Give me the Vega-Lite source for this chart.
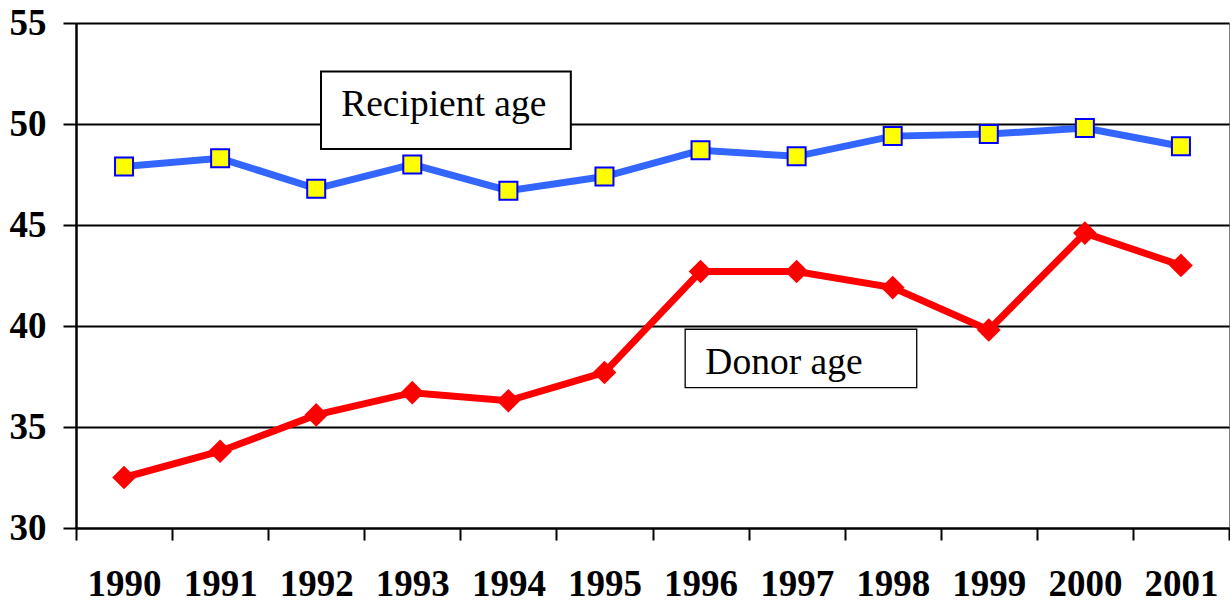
{
  "$schema": "https://vega.github.io/schema/vega-lite/v6.json",
  "autosize": {"type": "none"},
  "width": 1153,
  "height": 505,
  "padding": {"left": 76, "top": 23, "right": 1, "bottom": 75},
  "background": "white",
  "config": {"view": {"stroke": "#808080", "strokeWidth": 1}},
  "datasets": {
    "ages": [
      {"year": 1990, "series": "Recipient", "age": 47.9},
      {"year": 1991, "series": "Recipient", "age": 48.3},
      {"year": 1992, "series": "Recipient", "age": 46.8},
      {"year": 1993, "series": "Recipient", "age": 48.0},
      {"year": 1994, "series": "Recipient", "age": 46.7},
      {"year": 1995, "series": "Recipient", "age": 47.4},
      {"year": 1996, "series": "Recipient", "age": 48.7},
      {"year": 1997, "series": "Recipient", "age": 48.4},
      {"year": 1998, "series": "Recipient", "age": 49.4},
      {"year": 1999, "series": "Recipient", "age": 49.5},
      {"year": 2000, "series": "Recipient", "age": 49.8},
      {"year": 2001, "series": "Recipient", "age": 48.9},
      {"year": 1990, "series": "Donor", "age": 32.5},
      {"year": 1991, "series": "Donor", "age": 33.8},
      {"year": 1992, "series": "Donor", "age": 35.6},
      {"year": 1993, "series": "Donor", "age": 36.7},
      {"year": 1994, "series": "Donor", "age": 36.3},
      {"year": 1995, "series": "Donor", "age": 37.7},
      {"year": 1996, "series": "Donor", "age": 42.7},
      {"year": 1997, "series": "Donor", "age": 42.7},
      {"year": 1998, "series": "Donor", "age": 41.9},
      {"year": 1999, "series": "Donor", "age": 39.8},
      {"year": 2000, "series": "Donor", "age": 44.6},
      {"year": 2001, "series": "Donor", "age": 43.0}
    ],
    "boxes": [
      {"label": "Recipient age", "x1": 1992.05, "x2": 1994.65, "y1": 52.6, "y2": 48.76, "tx": 1992.26, "ty": 50.41},
      {"label": "Donor age", "x1": 1995.84, "x2": 1998.25, "y1": 39.84, "y2": 36.95, "tx": 1996.05, "ty": 37.62}
    ]
  },
  "layer": [
    {
      "data": {"name": "boxes"},
      "layer": [
        {
          "transform": [{"filter": "datum.label === 'Recipient age'"}],
          "mark": {"type": "rect", "fill": "white", "stroke": "black", "strokeWidth": 2},
          "encoding": {
            "x": {"field": "x1", "type": "quantitative", "scale": {"domain": [1989.5, 2001.5], "nice": false, "zero": false}, "axis": null},
            "x2": {"field": "x2"},
            "y": {"field": "y1", "type": "quantitative"},
            "y2": {"field": "y2"}
          }
        },
        {
          "transform": [{"filter": "datum.label === 'Donor age'"}],
          "mark": {"type": "rect", "fill": "white", "stroke": "black", "strokeWidth": 1.3},
          "encoding": {
            "x": {"field": "x1", "type": "quantitative", "scale": {"domain": [1989.5, 2001.5], "nice": false, "zero": false}, "axis": null},
            "x2": {"field": "x2"},
            "y": {"field": "y1", "type": "quantitative"},
            "y2": {"field": "y2"}
          }
        },
        {
          "mark": {"type": "text", "align": "left", "baseline": "alphabetic", "font": "Liberation Serif", "fontSize": 37.5, "color": "black"},
          "encoding": {
            "x": {"field": "tx", "type": "quantitative", "scale": {"domain": [1989.5, 2001.5], "nice": false, "zero": false}, "axis": null},
            "y": {"field": "ty", "type": "quantitative"},
            "text": {"field": "label"}
          }
        }
      ]
    },
    {
      "data": {"name": "ages"},
      "encoding": {
        "x": {
          "field": "year", "type": "ordinal",
          "scale": {"paddingInner": 0, "paddingOuter": 0},
          "axis": {
            "title": null, "tickBand": "extent", "labelAngle": 0,
            "labelFont": "Liberation Serif", "labelFontSize": 37, "labelFontWeight": "bold", "labelColor": "black",
            "domainColor": "black", "domainWidth": 2, "tickColor": "black", "tickWidth": 2, "tickSize": 12,
            "labelPadding": 26, "grid": false
          }
        },
        "y": {
          "field": "age", "type": "quantitative",
          "scale": {"domain": [30, 55], "nice": false, "zero": false},
          "axis": {
            "title": null, "values": [30, 35, 40, 45, 50, 55], "grid": true, "gridColor": "black", "gridWidth": 2, "gridOpacity": 1,
            "domainColor": "black", "domainWidth": 2.5, "tickColor": "black", "tickWidth": 2, "tickSize": 13,
            "labelPadding": 17, "labelFont": "Liberation Serif", "labelFontSize": 37, "labelFontWeight": "bold", "labelColor": "black"
          }
        }
      },
      "layer": [
        {
          "mark": {"type": "line", "strokeWidth": 7},
          "encoding": {
            "color": {"field": "series", "type": "nominal", "scale": {"domain": ["Recipient", "Donor"], "range": ["#3366FF", "#FF0000"]}, "legend": null}
          }
        },
        {
          "transform": [{"filter": "datum.series === 'Recipient'"}],
          "mark": {"type": "point", "shape": "square", "filled": true, "fill": "#FFFF00", "stroke": "#0000FF", "strokeWidth": 2, "size": 324, "opacity": 1}
        },
        {
          "transform": [{"filter": "datum.series === 'Donor'"}],
          "mark": {"type": "point", "shape": "diamond", "filled": true, "color": "#FF0000", "size": 560, "opacity": 1}
        }
      ]
    }
  ],
  "resolve": {"scale": {"x": "independent"}}
}
